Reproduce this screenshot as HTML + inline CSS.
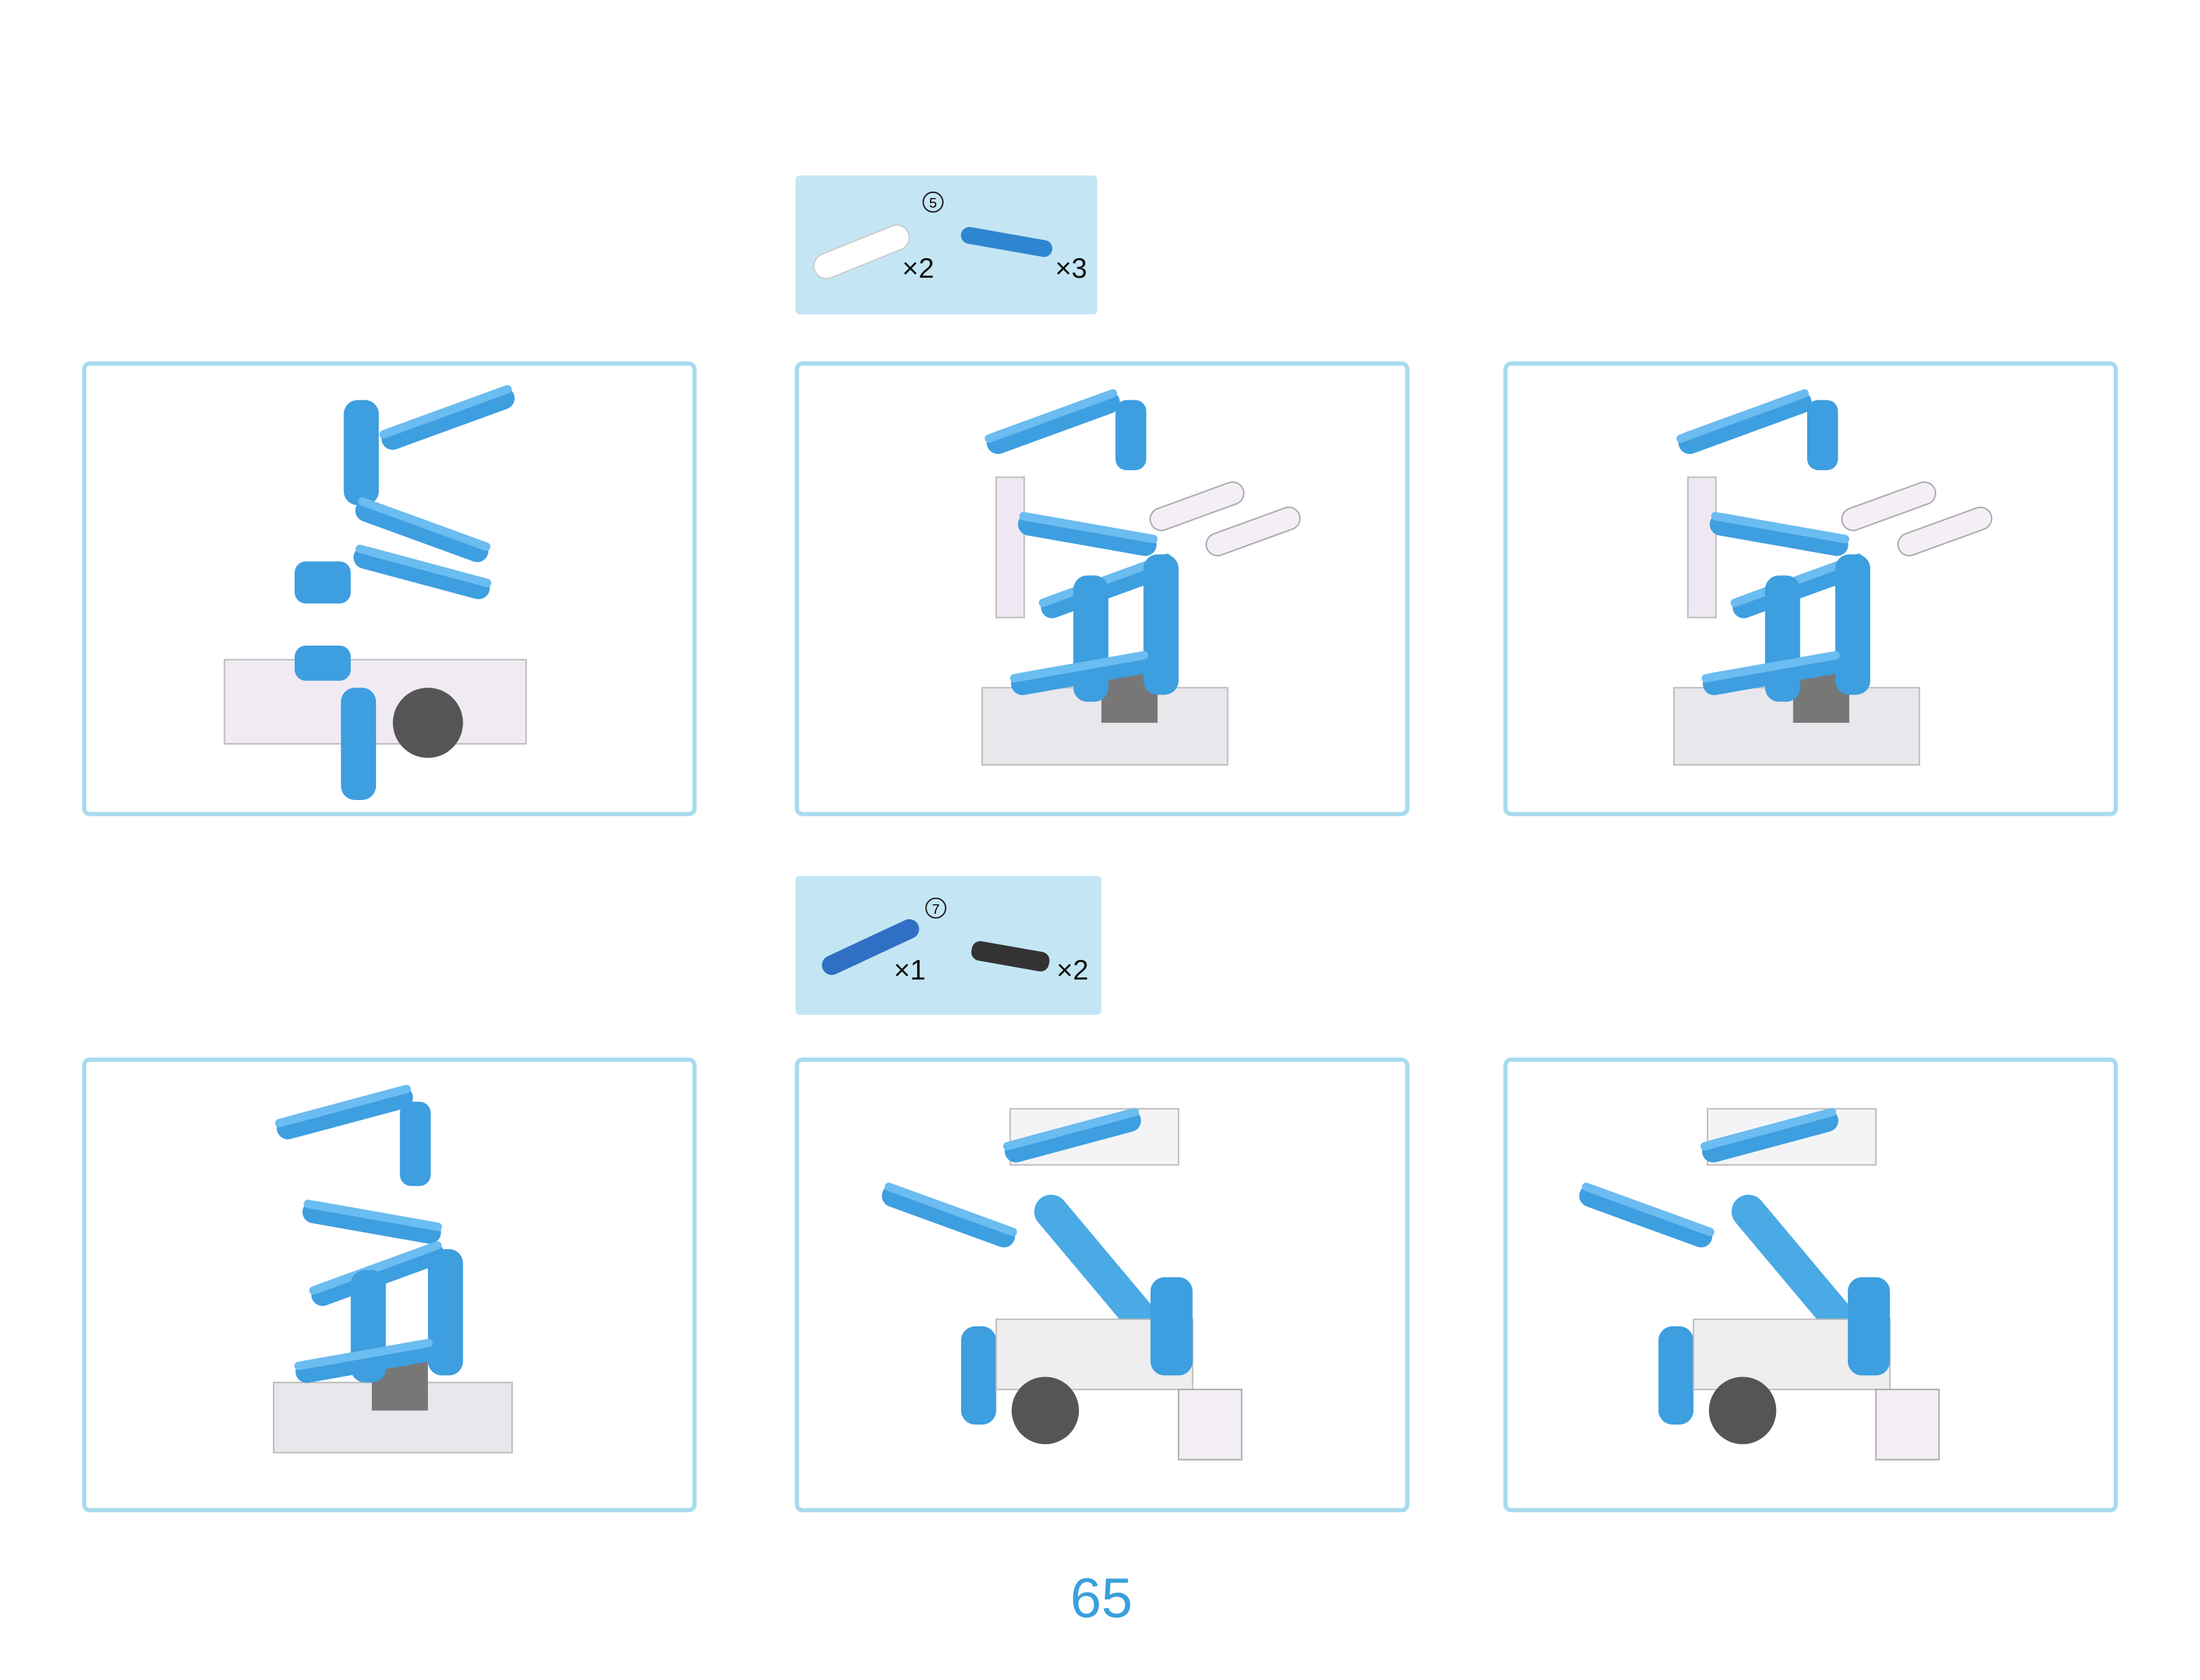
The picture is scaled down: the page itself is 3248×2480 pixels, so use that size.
<!DOCTYPE html>
<html><head><meta charset="utf-8"><style>
html,body{margin:0;padding:0;background:#fff;}
svg{display:block;}
text{font-family:"Liberation Sans",sans-serif;}
</style></head><body>
<svg width="3248" height="2480" viewBox="0 0 1568 1197" preserveAspectRatio="none">
<defs>
<g id="beamH"><rect x="0" y="0" width="100" height="16" rx="8" fill="#3d9ee0"/><rect x="0" y="0" width="100" height="6" rx="3" fill="#6bbcf0"/></g>
</defs>
<!-- parts boxes -->
<g>
<rect x="567" y="125" width="215" height="99" rx="3" fill="#c4e6f4"/>
<g transform="rotate(-22 610 180)"><rect x="578" y="172" width="72" height="18" rx="9" fill="#fff" stroke="#ccc"/></g>
<circle cx="665" cy="144" r="7" fill="none" stroke="#222" stroke-width="1"/><text x="665" y="148" font-size="10" text-anchor="middle">5</text>
<text x="643" y="198" font-size="20" fill="#111">×2</text>
<g transform="rotate(10 715 175)"><rect x="684" y="166" width="66" height="12" rx="6" fill="#2f86d0"/></g>
<text x="752" y="198" font-size="20" fill="#111">×3</text>
</g>
<g>
<rect x="567" y="624" width="218" height="99" rx="3" fill="#c4e6f4"/>
<g transform="rotate(-25 620 675)"><rect x="583" y="668" width="75" height="14" rx="7" fill="#2f6fc4"/></g>
<circle cx="667" cy="647" r="7" fill="none" stroke="#222" stroke-width="1"/><text x="667" y="651" font-size="10" text-anchor="middle">7</text>
<text x="637" y="698" font-size="20" fill="#111">×1</text>
<g transform="rotate(10 718 682)"><rect x="692" y="674" width="56" height="14" rx="6" fill="#333"/></g>
<text x="753" y="698" font-size="20" fill="#111">×2</text>
</g>
<!-- panels -->
<g fill="none" stroke="#a8dbee" stroke-width="3">
<rect x="60" y="259" width="435" height="321" rx="4"/>
<rect x="568" y="259" width="435" height="321" rx="4"/>
<rect x="1073" y="259" width="435" height="321" rx="4"/>
<rect x="60" y="755" width="435" height="321" rx="4"/>
<rect x="568" y="755" width="435" height="321" rx="4"/>
<rect x="1073" y="755" width="435" height="321" rx="4"/>
</g>
<!-- models (approximate) -->
<g>
<rect x="160" y="470" width="215" height="60" fill="#f0eaf2" stroke="#bbb"/>
<circle cx="305" cy="515" r="25" fill="#555"/>
<rect x="245" y="285" width="25" height="75" rx="10" fill="#3d9ee0"/>
<g transform="rotate(-20 320 300)"><use href="#beamH" x="270" y="290" width="100"/></g>
<g transform="rotate(20 300 380)"><use href="#beamH" x="250" y="370"/></g>
<g transform="rotate(15 300 410)"><use href="#beamH" x="250" y="400"/></g>
<rect x="210" y="400" width="40" height="30" rx="8" fill="#3d9ee0"/>
<rect x="243" y="490" width="25" height="80" rx="10" fill="#3d9ee0"/>
<rect x="210" y="460" width="40" height="25" rx="8" fill="#3d9ee0"/>
</g>
<g id="m2">
<rect x="700" y="490" width="175" height="55" fill="#e8e8ec" stroke="#bbb"/>
<rect x="785" y="475" width="40" height="40" fill="#777"/>
<g transform="rotate(-20 745 300)"><use href="#beamH" x="700" y="295"/></g>
<rect x="795" y="285" width="22" height="50" rx="8" fill="#3d9ee0"/>
<rect x="710" y="340" width="20" height="100" fill="#efe8f2" stroke="#bbb"/>
<g transform="rotate(10 770 380)"><use href="#beamH" x="725" y="372"/></g>
<g transform="rotate(-20 790 420)"><use href="#beamH" x="740" y="410"/></g>
<rect x="765" y="410" width="25" height="90" rx="10" fill="#3d9ee0"/>
<rect x="815" y="395" width="25" height="100" rx="10" fill="#3d9ee0"/>
<g transform="rotate(-10 770 480)"><use href="#beamH" x="720" y="472"/></g>
<g transform="rotate(-20 855 360)"><rect x="818" y="352" width="70" height="16" rx="8" fill="#f4eef6" stroke="#aaa"/></g>
<g transform="rotate(-20 895 378)"><rect x="858" y="370" width="70" height="16" rx="8" fill="#f4eef6" stroke="#aaa"/></g>
</g>
<use href="#m2" x="493" y="0"/>
<g>
<rect x="195" y="985" width="170" height="50" fill="#e8e8ec" stroke="#bbb"/>
<rect x="265" y="965" width="40" height="40" fill="#777"/>
<g transform="rotate(-15 245 790)"><use href="#beamH" x="195" y="785"/></g>
<rect x="285" y="785" width="22" height="60" rx="8" fill="#3d9ee0"/>
<g transform="rotate(10 260 870)"><use href="#beamH" x="215" y="862"/></g>
<g transform="rotate(-20 270 910)"><use href="#beamH" x="220" y="900"/></g>
<rect x="250" y="905" width="25" height="80" rx="10" fill="#3d9ee0"/>
<rect x="305" y="890" width="25" height="90" rx="10" fill="#3d9ee0"/>
<g transform="rotate(-10 260 970)"><use href="#beamH" x="210" y="962"/></g>
</g>
<g id="m5">
<rect x="720" y="790" width="120" height="40" fill="#f4f4f6" stroke="#bbb"/>
<g transform="rotate(-15 770 810)"><use href="#beamH" x="715" y="800"/></g>
<g transform="rotate(20 680 870)"><use href="#beamH" x="625" y="860"/></g>
<g transform="rotate(50 780 900)"><rect x="720" y="888" width="140" height="24" rx="12" fill="#4aaae6"/></g>
<rect x="685" y="945" width="25" height="70" rx="10" fill="#3d9ee0"/>
<rect x="710" y="940" width="140" height="50" fill="#eee" stroke="#bbb"/>
<circle cx="745" cy="1005" r="24" fill="#555"/>
<rect x="820" y="910" width="30" height="70" rx="10" fill="#3d9ee0"/>
<rect x="840" y="990" width="45" height="50" fill="#f4eef6" stroke="#aaa"/>
</g>
<use href="#m5" x="497" y="0"/>
<text x="785" y="1152" font-size="40" fill="#3aa0dc" text-anchor="middle">65</text>
</svg>
</body></html>
